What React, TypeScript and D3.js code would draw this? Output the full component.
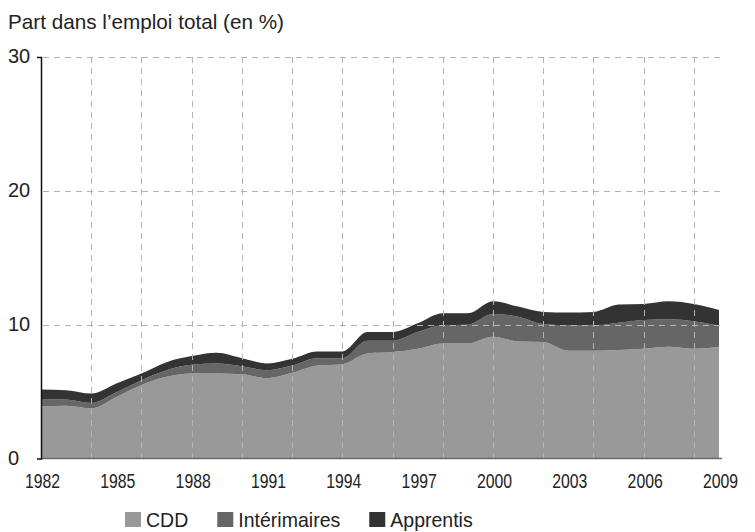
import React, { useEffect, useRef } from 'react';
import * as d3 from 'd3';

// années et séries (part dans l'emploi total, en %)
const years = [1982, 1983, 1984, 1985, 1986, 1987, 1988, 1989, 1990, 1991, 1992, 1993, 1994, 1995,
    1996, 1997, 1998, 1999, 2000, 2001, 2002, 2003, 2004, 2005, 2006, 2007, 2008, 2009];
const cdd = [3.9, 3.95, 3.75, 4.6, 5.5, 6.1, 6.35, 6.35, 6.3, 6.0, 6.4, 6.95, 7.05, 7.85,
    7.95, 8.2, 8.6, 8.6, 9.1, 8.75, 8.7, 8.05, 8.05, 8.1, 8.2, 8.35, 8.2, 8.35];
const interimaires = [0.55, 0.45, 0.4, 0.35, 0.35, 0.5, 0.65, 0.75, 0.6, 0.6, 0.55, 0.55, 0.45, 0.95,
    0.85, 1.25, 1.35, 1.4, 1.7, 1.85, 1.35, 1.9, 1.9, 2.05, 2.15, 2.05, 2.05, 1.55];
const apprentis = [0.7, 0.7, 0.7, 0.65, 0.5, 0.6, 0.65, 0.8, 0.6, 0.5, 0.5, 0.5, 0.5, 0.65,
    0.65, 0.65, 0.9, 0.85, 0.95, 0.75, 0.9, 0.95, 1.0, 1.35, 1.2, 1.35, 1.3, 1.2];

const seriesNames = ['CDD', 'Intérimaires', 'Apprentis'];
const seriesColors = ['#999999', '#666666', '#333333'];
const yTicks = [0, 10, 20, 30];
const yGrid = [10, 20, 30];
const xTickYears = [1982, 1985, 1988, 1991, 1994, 1997, 2000, 2003, 2006, 2009];
const xGridYears = [1984, 1986, 1988, 1990, 1992, 1994, 1996, 1998, 2000, 2002, 2004, 2006, 2008];
const title = 'Part dans l’emploi total (en %)';

const App = () => {
    const svgRef = useRef(null);

    useEffect(() => {
        const svg = d3.select(svgRef.current);
        svg.selectAll('*').remove();

        const left = 41, right = 719, top = 57, bottom = 458.5;
        const font = '"Liberation Sans", Arial, sans-serif';

        const x = d3.scaleLinear().domain([years[0], years[years.length - 1]]).range([left, right]);
        const y = d3.scaleLinear().domain([0, 30]).range([bottom, top]);

        const table = years.map((yr, i) => ({
            year: yr,
            'CDD': cdd[i],
            'Intérimaires': interimaires[i],
            'Apprentis': apprentis[i],
        }));
        const stacked = d3.stack().keys(seriesNames)(table);

        const area = d3.area()
            .x((d) => x(d.data.year))
            .y0((d) => y(d[0]))
            .y1((d) => y(d[1]))
            .curve(d3.curveMonotoneX);

        svg.append('g')
            .selectAll('path')
            .data(stacked)
            .enter()
            .append('path')
            .attr('d', area)
            .attr('fill', (d, i) => seriesColors[i]);

        // grille en pointillés, par-dessus les aires
        const grid = svg.append('g')
            .attr('stroke', '#b4b4b4')
            .attr('stroke-width', 1)
            .attr('stroke-dasharray', '6,5');

        grid.selectAll('.h')
            .data(yGrid)
            .enter()
            .append('line')
            .attr('x1', left + 2)
            .attr('x2', right + 3)
            .attr('y1', (d) => Math.round(y(d)) + 0.5)
            .attr('y2', (d) => Math.round(y(d)) + 0.5);

        grid.selectAll('.v')
            .data(xGridYears)
            .enter()
            .append('line')
            .attr('x1', (d) => Math.round(x(d)) + 0.5)
            .attr('x2', (d) => Math.round(x(d)) + 0.5)
            .attr('y1', y(30))
            .attr('y2', bottom);

        // axe horizontal
        svg.append('line')
            .attr('x1', left)
            .attr('x2', right + 3)
            .attr('y1', bottom)
            .attr('y2', bottom)
            .attr('stroke', '#6a6a6a')
            .attr('stroke-width', 1.5);

        // axe vertical
        const yAxis = svg.append('g')
            .attr('transform', `translate(${left},0)`)
            .call(d3.axisLeft(y).tickValues([]).tickSizeOuter(4));
        yAxis.select('.domain').attr('stroke', '#111').attr('stroke-width', 1.5);

        svg.append('g')
            .selectAll('text')
            .data(yTicks)
            .enter()
            .append('text')
            .attr('x', 8)
            .attr('y', (d) => y(d) + 6)
            .style('font-family', font)
            .style('font-size', '20px')
            .attr('fill', '#222')
            .text((d) => d);

        // années en police étroite
        svg.append('g')
            .selectAll('text')
            .data(xTickYears)
            .enter()
            .append('text')
            .attr('transform', (d) => `translate(${x(d) + 1.5},488) scale(0.81,1)`)
            .attr('text-anchor', 'middle')
            .style('font-family', font)
            .style('font-size', '19.5px')
            .attr('fill', '#222')
            .text((d) => d);

        svg.append('text')
            .attr('x', 8)
            .attr('y', 29)
            .style('font-family', font)
            .style('font-size', '20.7px')
            .attr('fill', '#222')
            .text(title);

        // légende
        const legend = svg.append('g');
        let lx = 125;
        seriesNames.forEach((name, i) => {
            legend.append('rect')
                .attr('x', lx)
                .attr('y', 512)
                .attr('width', 16)
                .attr('height', 15)
                .attr('fill', seriesColors[i]);
            const t = legend.append('text')
                .attr('transform', `translate(${lx + 21},527) scale(0.93,1)`)
                .style('font-family', font)
                .style('font-size', '21px')
                .attr('fill', '#222')
                .text(name);
            lx += 21 + t.node().getComputedTextLength() * 0.93 + 29;
        });
    }, []);

    return (
        <svg
            ref={svgRef}
            width={755}
            height={532}
            style={{ position: 'absolute', left: 0, top: 0, display: 'block', background: '#fff' }}
        />
    );
};

export default App;
